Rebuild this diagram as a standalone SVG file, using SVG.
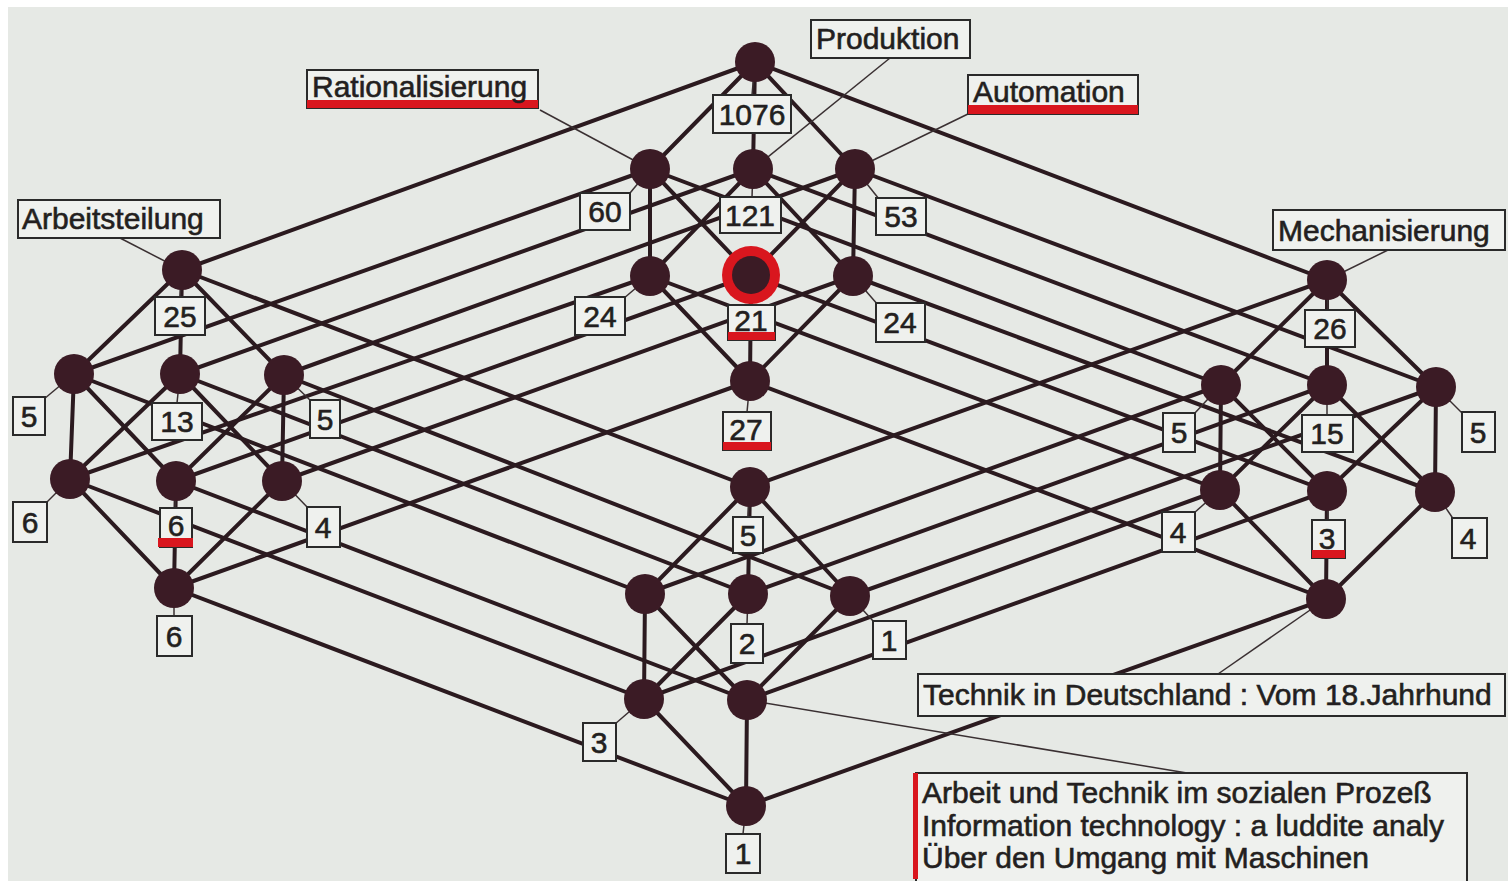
<svg xmlns="http://www.w3.org/2000/svg" width="1508" height="881" viewBox="0 0 1508 881">
<style>
.e line{stroke:#2b1a1f;stroke-width:4;stroke-linecap:round}
.ld line{stroke:#3a3032;stroke-width:1.5}
.n{fill:#3b1b25}
.b{fill:#eff1ee;stroke:#2a2a2a;stroke-width:2}
.rd{fill:#d9161e}
text{font-family:"Liberation Sans",Arial,sans-serif;font-size:30px;fill:#231f20;stroke:#231f20;stroke-width:0.6}
.c{text-anchor:middle}
</style>
<rect width="1508" height="881" fill="#ffffff"/>
<rect x="8" y="7" width="1500" height="874" fill="#e6e9e5"/>
<g id="connectors">
<g class="e">
<line x1="755" y1="62" x2="650" y2="169"/><line x1="755" y1="62" x2="753" y2="169"/><line x1="755" y1="62" x2="855" y2="169"/>
<line x1="650" y1="169" x2="650" y2="276"/><line x1="650" y1="169" x2="751" y2="275"/>
<line x1="753" y1="169" x2="650" y2="276"/><line x1="753" y1="169" x2="853" y2="276"/>
<line x1="855" y1="169" x2="751" y2="275"/><line x1="855" y1="169" x2="853" y2="276"/>
<line x1="650" y1="276" x2="750" y2="381"/><line x1="751" y1="275" x2="750" y2="381"/><line x1="853" y1="276" x2="750" y2="381"/>
<line x1="182" y1="270" x2="74" y2="374"/><line x1="182" y1="270" x2="180" y2="374"/><line x1="182" y1="270" x2="284" y2="375"/>
<line x1="74" y1="374" x2="70" y2="479"/><line x1="74" y1="374" x2="176" y2="481"/>
<line x1="180" y1="374" x2="70" y2="479"/><line x1="180" y1="374" x2="282" y2="481"/>
<line x1="284" y1="375" x2="176" y2="481"/><line x1="284" y1="375" x2="282" y2="481"/>
<line x1="70" y1="479" x2="174" y2="588"/><line x1="176" y1="481" x2="174" y2="588"/><line x1="282" y1="481" x2="174" y2="588"/>
<line x1="1327" y1="280" x2="1221" y2="385"/><line x1="1327" y1="280" x2="1327" y2="385"/><line x1="1327" y1="280" x2="1436" y2="387"/>
<line x1="1221" y1="385" x2="1220" y2="490"/><line x1="1221" y1="385" x2="1327" y2="491"/>
<line x1="1327" y1="385" x2="1220" y2="490"/><line x1="1327" y1="385" x2="1435" y2="492"/>
<line x1="1436" y1="387" x2="1327" y2="491"/><line x1="1436" y1="387" x2="1435" y2="492"/>
<line x1="1220" y1="490" x2="1326" y2="599"/><line x1="1327" y1="491" x2="1326" y2="599"/><line x1="1435" y1="492" x2="1326" y2="599"/>
<line x1="750" y1="487" x2="645" y2="594"/><line x1="750" y1="487" x2="748" y2="594"/><line x1="750" y1="487" x2="850" y2="596"/>
<line x1="645" y1="594" x2="644" y2="699"/><line x1="645" y1="594" x2="747" y2="700"/>
<line x1="748" y1="594" x2="644" y2="699"/><line x1="850" y1="596" x2="747" y2="700"/>
<line x1="644" y1="699" x2="746" y2="806"/><line x1="747" y1="700" x2="746" y2="806"/>
<line x1="755" y1="62" x2="182" y2="270"/><line x1="650" y1="169" x2="74" y2="374"/><line x1="753" y1="169" x2="180" y2="374"/><line x1="855" y1="169" x2="284" y2="375"/>
<line x1="650" y1="276" x2="70" y2="479"/><line x1="751" y1="275" x2="176" y2="481"/><line x1="853" y1="276" x2="282" y2="481"/><line x1="750" y1="381" x2="174" y2="588"/>
<line x1="755" y1="62" x2="1327" y2="280"/><line x1="650" y1="169" x2="1221" y2="385"/><line x1="753" y1="169" x2="1327" y2="385"/><line x1="855" y1="169" x2="1436" y2="387"/>
<line x1="650" y1="276" x2="1220" y2="490"/><line x1="751" y1="275" x2="1327" y2="491"/><line x1="853" y1="276" x2="1435" y2="492"/><line x1="750" y1="381" x2="1326" y2="599"/>
<line x1="182" y1="270" x2="750" y2="487"/><line x1="74" y1="374" x2="645" y2="594"/><line x1="180" y1="374" x2="748" y2="594"/><line x1="284" y1="375" x2="850" y2="596"/>
<line x1="70" y1="479" x2="644" y2="699"/><line x1="176" y1="481" x2="747" y2="700"/><line x1="174" y1="588" x2="746" y2="806"/>
<line x1="1327" y1="280" x2="750" y2="487"/><line x1="1221" y1="385" x2="645" y2="594"/><line x1="1327" y1="385" x2="748" y2="594"/><line x1="1436" y1="387" x2="850" y2="596"/>
<line x1="1220" y1="490" x2="644" y2="699"/><line x1="1327" y1="491" x2="747" y2="700"/><line x1="1326" y1="599" x2="746" y2="806"/>
</g>
<g class="ld">
<line x1="540" y1="110" x2="650" y2="169"/><line x1="890" y1="58" x2="753" y2="169"/><line x1="970" y1="113" x2="855" y2="169"/>
<line x1="120" y1="238" x2="182" y2="270"/><line x1="1388" y1="250" x2="1327" y2="280"/>
<line x1="1218" y1="674" x2="1326" y2="599"/><line x1="747" y1="700" x2="1187" y2="773"/>
<line x1="755" y1="62" x2="752" y2="95"/><line x1="650" y1="169" x2="630" y2="193"/><line x1="753" y1="169" x2="752" y2="197"/><line x1="855" y1="169" x2="879" y2="199"/>
<line x1="650" y1="276" x2="623" y2="299"/><line x1="751" y1="275" x2="751" y2="305"/><line x1="853" y1="276" x2="878" y2="305"/><line x1="750" y1="381" x2="747" y2="412"/>
<line x1="182" y1="270" x2="180" y2="297"/><line x1="74" y1="374" x2="44" y2="399"/><line x1="180" y1="374" x2="177" y2="403"/><line x1="284" y1="375" x2="312" y2="402"/>
<line x1="70" y1="479" x2="46" y2="503"/><line x1="176" y1="481" x2="175" y2="508"/><line x1="282" y1="481" x2="309" y2="509"/><line x1="174" y1="588" x2="174" y2="616"/>
<line x1="1327" y1="280" x2="1328" y2="310"/><line x1="1221" y1="385" x2="1194" y2="414"/><line x1="1327" y1="385" x2="1327" y2="415"/><line x1="1436" y1="387" x2="1463" y2="414"/>
<line x1="1220" y1="490" x2="1194" y2="513"/><line x1="1327" y1="491" x2="1328" y2="520"/><line x1="1435" y1="492" x2="1454" y2="520"/>
<line x1="750" y1="487" x2="748" y2="517"/><line x1="748" y1="594" x2="747" y2="624"/><line x1="850" y1="596" x2="874" y2="622"/><line x1="644" y1="699" x2="615" y2="724"/><line x1="746" y1="806" x2="743" y2="834"/>
</g>
</g>
<g id="n-T"><circle class="n" cx="755" cy="62" r="20"/><rect class="b" x="713" y="95" width="78" height="38"/><text class="c" x="752" y="125">1076</text></g>
<g id="n-C1"><circle class="n" cx="650" cy="169" r="20"/><rect class="b" x="580" y="193" width="50" height="37"/><text class="c" x="605" y="222">60</text>
<rect class="b" x="307" y="70" width="231" height="38"/><rect class="rd" x="307" y="100" width="231" height="8"/><text x="312" y="97">Rationalisierung</text></g>
<g id="n-C2"><circle class="n" cx="753" cy="169" r="20"/><rect class="b" x="720" y="197" width="61" height="36"/><text class="c" x="750" y="226">121</text>
<rect class="b" x="811" y="20" width="159" height="38"/><text x="816" y="49">Produktion</text></g>
<g id="n-C3"><circle class="n" cx="855" cy="169" r="20"/><rect class="b" x="876" y="198" width="50" height="37"/><text class="c" x="901" y="227">53</text>
<rect class="b" x="968" y="75" width="170" height="39"/><rect class="rd" x="968" y="105" width="170" height="9"/><text x="973" y="102">Automation</text></g>
<g id="n-C4"><circle class="n" cx="650" cy="276" r="20"/><rect class="b" x="575" y="297" width="50" height="38"/><text class="c" x="600" y="327">24</text></g>
<g id="n-C5"><circle class="rd" cx="751" cy="275" r="29"/><circle class="n" cx="751" cy="275" r="19"/><rect class="b" x="728" y="305" width="47" height="35"/><rect class="rd" x="728" y="332" width="47" height="8"/><text class="c" x="751" y="331">21</text></g>
<g id="n-C6"><circle class="n" cx="853" cy="276" r="20"/><rect class="b" x="876" y="303" width="49" height="39"/><text class="c" x="900" y="333">24</text></g>
<g id="n-C7"><circle class="n" cx="750" cy="381" r="20"/><rect class="b" x="723" y="412" width="48" height="38"/><rect class="rd" x="723" y="442" width="48" height="8"/><text class="c" x="746" y="440">27</text></g>
<g id="n-L0"><circle class="n" cx="182" cy="270" r="20"/><rect class="b" x="155" y="297" width="50" height="38"/><text class="c" x="180" y="327">25</text>
<rect class="b" x="18" y="200" width="202" height="38"/><text x="22" y="229">Arbeitsteilung</text></g>
<g id="n-L1"><circle class="n" cx="74" cy="374" r="20"/><rect class="b" x="13" y="397" width="32" height="38"/><text class="c" x="29" y="427">5</text></g>
<g id="n-L2"><circle class="n" cx="180" cy="374" r="20"/><rect class="b" x="152" y="403" width="50" height="37"/><text class="c" x="177" y="432">13</text></g>
<g id="n-L3"><circle class="n" cx="284" cy="375" r="20"/><rect class="b" x="310" y="400" width="30" height="38"/><text class="c" x="325" y="430">5</text></g>
<g id="n-L4"><circle class="n" cx="70" cy="479" r="20"/><rect class="b" x="13" y="502" width="34" height="40"/><text class="c" x="30" y="533">6</text></g>
<g id="n-L5"><circle class="n" cx="176" cy="481" r="20"/><rect class="b" x="160" y="508" width="32" height="39"/><rect class="rd" x="158" y="538" width="35" height="9"/><text class="c" x="176" y="536">6</text></g>
<g id="n-L6"><circle class="n" cx="282" cy="481" r="20"/><rect class="b" x="307" y="507" width="33" height="40"/><text class="c" x="323" y="538">4</text></g>
<g id="n-L7"><circle class="n" cx="174" cy="588" r="20"/><rect class="b" x="157" y="616" width="35" height="40"/><text class="c" x="174" y="647">6</text></g>
<g id="n-R0"><circle class="n" cx="1327" cy="280" r="20"/><rect class="b" x="1305" y="310" width="50" height="37"/><text class="c" x="1330" y="339">26</text>
<rect class="b" x="1273" y="210" width="232" height="40"/><text x="1278" y="241">Mechanisierung</text></g>
<g id="n-R1"><circle class="n" cx="1221" cy="385" r="20"/><rect class="b" x="1163" y="413" width="32" height="39"/><text class="c" x="1179" y="443">5</text></g>
<g id="n-R2"><circle class="n" cx="1327" cy="385" r="20"/><rect class="b" x="1302" y="415" width="51" height="37"/><text class="c" x="1327" y="444">15</text></g>
<g id="n-R3"><circle class="n" cx="1436" cy="387" r="20"/><rect class="b" x="1462" y="412" width="33" height="40"/><text class="c" x="1478" y="443">5</text></g>
<g id="n-R4"><circle class="n" cx="1220" cy="490" r="20"/><rect class="b" x="1162" y="512" width="33" height="40"/><text class="c" x="1178" y="543">4</text></g>
<g id="n-R5"><circle class="n" cx="1327" cy="491" r="20"/><rect class="b" x="1312" y="520" width="33" height="38"/><rect class="rd" x="1312" y="550" width="33" height="8"/><text class="c" x="1327" y="549">3</text></g>
<g id="n-R6"><circle class="n" cx="1435" cy="492" r="20"/><rect class="b" x="1452" y="518" width="35" height="40"/><text class="c" x="1468" y="549">4</text></g>
<g id="n-R7"><circle class="n" cx="1326" cy="599" r="20"/><rect class="b" x="918" y="674" width="587" height="42"/><text x="923" y="705">Technik in Deutschland : Vom 18.Jahrhund</text></g>
<g id="n-B0"><circle class="n" cx="750" cy="487" r="20"/><rect class="b" x="733" y="517" width="30" height="36"/><text class="c" x="748" y="546">5</text></g>
<g id="n-B1"><circle class="n" cx="645" cy="594" r="20"/></g>
<g id="n-B2"><circle class="n" cx="748" cy="594" r="20"/><rect class="b" x="731" y="624" width="32" height="39"/><text class="c" x="747" y="654">2</text></g>
<g id="n-B3"><circle class="n" cx="850" cy="596" r="20"/><rect class="b" x="873" y="621" width="33" height="38"/><text class="c" x="889" y="651">1</text></g>
<g id="n-B4"><circle class="n" cx="644" cy="699" r="20"/><rect class="b" x="583" y="723" width="33" height="38"/><text class="c" x="599" y="753">3</text></g>
<g id="n-B5"><circle class="n" cx="747" cy="700" r="20"/><rect class="b" x="916" y="773" width="551" height="110"/><rect class="rd" x="913" y="773" width="5" height="106"/>
<text x="922" y="803">Arbeit und Technik im sozialen Prozeß</text><text x="922" y="836">Information technology : a luddite analy</text><text x="922" y="868">Über den Umgang mit Maschinen</text></g>
<g id="n-B7"><circle class="n" cx="746" cy="806" r="20"/><rect class="b" x="726" y="834" width="34" height="39"/><text class="c" x="743" y="864">1</text></g>
</svg>
